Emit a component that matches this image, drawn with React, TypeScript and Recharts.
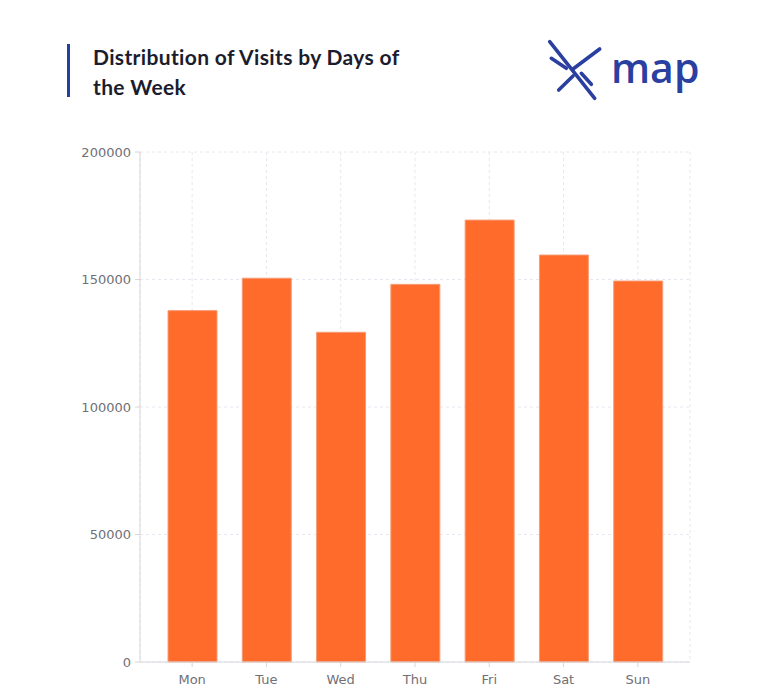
import { BarChart, Bar, XAxis, YAxis, CartesianGrid } from "recharts";

const days = ["Mon", "Tue", "Wed", "Thu", "Fri", "Sat", "Sun"];
const visits = [137800, 150500, 129300, 148100, 173300, 159600, 149400];
const yTicks = [0, 50000, 100000, 150000, 200000];

const data = days.map((day, i) => ({ day, visits: visits[i] }));

const tickStyle = { fill: "#707076", fontSize: 13, fontFamily: "DejaVu Sans" };

function Logo() {
  const blue = "#2a3f9f";
  return (
    <svg
      width={190}
      height={80}
      style={{ position: "absolute", left: 530, top: 30 }}
    >
      <g stroke={blue} strokeWidth={3.6} strokeLinecap="round" fill="none">
        <line x1={19.7} y1={11.7} x2={64.7} y2={68.3} />
        <line x1={69.7} y1={19} x2={43} y2={39} />
        <line x1={21.3} y1={28.3} x2={36.3} y2={38.3} />
        <line x1={51.3} y1={43.3} x2={61.3} y2={54.3} />
        <line x1={43} y1={46} x2={28.7} y2={60} />
      </g>
      <text
        x={81}
        y={53}
        fill={blue}
        fontSize={41}
        fontFamily="Open Sans"
        fontWeight={600}
      >
        map
      </text>
    </svg>
  );
}

export default function App() {
  return (
    <div
      style={{
        position: "absolute",
        left: 0,
        top: 0,
        width: 767,
        height: 692,
        background: "#fff",
        overflow: "hidden",
      }}
    >
      <div
        style={{
          position: "absolute",
          left: 67,
          top: 44,
          width: 3,
          height: 53,
          background: "#2440a0",
        }}
      />
      <div
        style={{
          position: "absolute",
          left: 93,
          top: 42,
          width: 380,
          fontFamily: "Lato",
          fontWeight: 700,
          fontSize: 21,
          letterSpacing: 0.35,
          lineHeight: "30px",
          color: "#1b1d2e",
        }}
      >
        Distribution of Visits by Days of
        <br />
        the Week
      </div>
      <Logo />
      <div style={{ position: "absolute", left: 0, top: 0 }}>
        <BarChart
          width={767}
          height={692}
          data={data}
          margin={{ top: 152, right: 77, bottom: 0, left: 80 }}
          barSize={49}
        >
          <CartesianGrid stroke="#e8e6ee" strokeDasharray="3 3" />
          <XAxis
            dataKey="day"
            height={30}
            padding={{ left: 15, right: 15 }}
            tick={tickStyle}
            tickLine={{ stroke: "#d6d6dc" }}
            tickSize={5}
            tickMargin={8}
            axisLine={{ stroke: "#d6d6dc" }}
          />
          <YAxis
            width={60}
            domain={[0, 200000]}
            ticks={yTicks}
            tick={tickStyle}
            tickLine={{ stroke: "#d6d6dc" }}
            tickSize={5}
            tickMargin={4}
            axisLine={{ stroke: "#d6d6dc" }}
          />
          <Bar
            dataKey="visits"
            fill="#ff6b2b"
            stroke="#f59d78"
            strokeWidth={1}
            isAnimationActive={false}
          />
        </BarChart>
      </div>
    </div>
  );
}
